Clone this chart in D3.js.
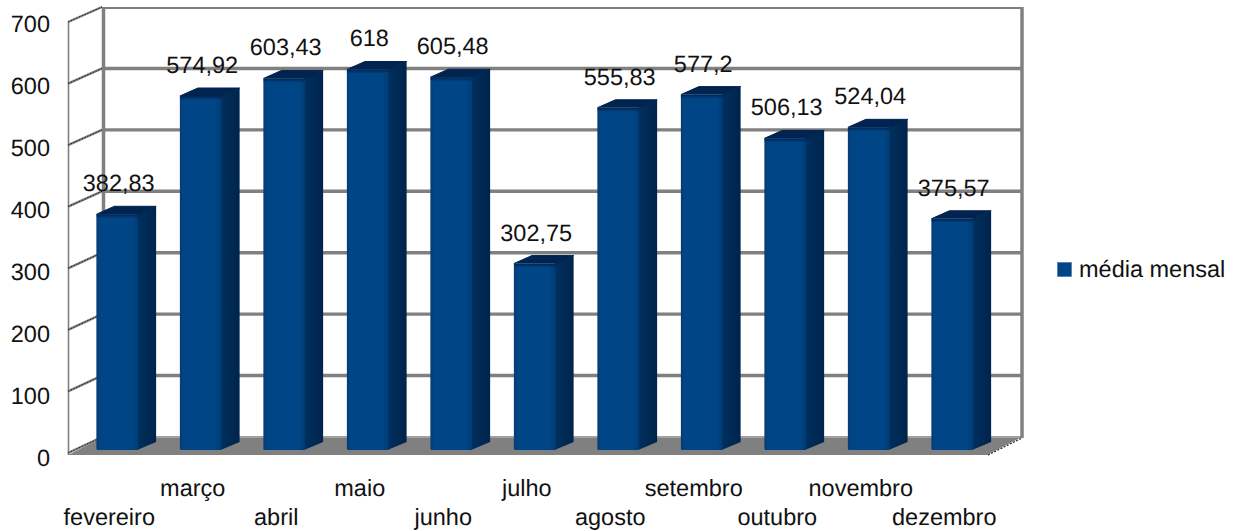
<!DOCTYPE html>
<html><head><meta charset="utf-8"><script src="https://cdn.jsdelivr.net/npm/d3@7"></script>
<style>html,body{margin:0;padding:0;background:#fff}svg{display:block}text{font-family:"Liberation Sans",Arial,sans-serif;fill:#111;text-rendering:geometricPrecision}</style></head>
<body><svg id="c" width="1246" height="531"></svg>
<script>
const months = ["fevereiro","março","abril","maio","junho","julho","agosto","setembro","outubro","novembro","dezembro"];
const values = [382.83,574.92,603.43,618,605.48,302.75,555.83,577.2,506.13,524.04,375.57];
const labels = ["382,83","574,92","603,43","618","605,48","302,75","555,83","577,2","506,13","524,04","375,57"];
const ticks = [0,100,200,300,400,500,600,700];
const seriesName = "média mensal";

const svg = d3.select("#c");
const FS = 23.5;
const dx = 35;
const yFront = d3.scaleLinear().domain([0,700]).range([453,22]);
const yBack  = d3.scaleLinear().domain([0,700]).range([437,7]);
const yBar   = d3.scaleLinear().domain([0,700]).range([450,19]);
const yLabel = d3.scaleLinear().domain([0,700]).range([466,32]);
const x = d3.scaleBand().domain(months).range([75.5,994]).paddingInner(0.5).paddingOuter(0.25);
const GRAY = "#808080";

const defs = svg.append("defs");
const g = defs.append("linearGradient").attr("id","front");
[[0,"#0a3a72"],[0.08,"#004586"],[0.85,"#004586"],[1,"#003c74"]].forEach(d=>g.append("stop").attr("offset",d[0]).attr("stop-color",d[1]));
const g2 = defs.append("linearGradient").attr("id","side");
[[0,"#00305f"],[0.5,"#002a55"],[1,"#00244c"]].forEach(d=>g2.append("stop").attr("offset",d[0]).attr("stop-color",d[1]));
const g3 = defs.append("linearGradient").attr("id","topShade").attr("x1",0).attr("x2",0).attr("y1",0).attr("y2",1);
[[0,"#00234f",1],[1,"#00234f",0]].forEach(d=>g3.append("stop").attr("offset",d[0]).attr("stop-color",d[1]).attr("stop-opacity",d[2]));

// floor
svg.append("path").attr("fill",GRAY)
  .attr("d",d3.line()([[68,yFront(0)+2],[68+dx,yBack(0)],[1022,yBack(0)],[1022-dx,yFront(0)+2]]));
// walls
svg.selectAll("line.grid").data(ticks.slice(1,-1)).join("line").attr("class","grid")
  .attr("x1",103).attr("x2",1022).attr("y1",d=>yBack(d)).attr("y2",d=>yBack(d))
  .attr("stroke",GRAY).attr("stroke-width",3.4);
svg.append("line").attr("x1",103).attr("x2",1022).attr("y1",yBack(700)+1).attr("y2",yBack(700)+1).attr("stroke",GRAY).attr("stroke-width",2);
svg.append("line").attr("x1",103).attr("x2",1022).attr("y1",yBack(0)).attr("y2",yBack(0)).attr("stroke","#a0a0a0").attr("stroke-width",2);
svg.append("line").attr("x1",103.5).attr("x2",103.5).attr("y1",7).attr("y2",437).attr("stroke",GRAY).attr("stroke-width",3.5);
svg.append("line").attr("x1",1022).attr("x2",1022).attr("y1",7).attr("y2",438).attr("stroke",GRAY).attr("stroke-width",3.5);
svg.append("line").attr("x1",68.5).attr("x2",68.5).attr("y1",yFront(700)).attr("y2",yFront(0)+2).attr("stroke",GRAY).attr("stroke-width",1.6);
// diagonal ticks
svg.selectAll("line.tk").data(ticks).join("line").attr("class","tk")
  .attr("x1",68).attr("y1",d=>yFront(d)).attr("x2",102).attr("y2",d=>yBack(d))
  .attr("stroke",GRAY).attr("stroke-width",2.4);
svg.selectAll("line.tk2").data(ticks).join("line").attr("class","tk2")
  .attr("x1",68).attr("y1",d=>yFront(d)).attr("x2",102).attr("y2",d=>yBack(d))
  .attr("stroke","#222").attr("stroke-width",1).attr("stroke-dasharray","1.5 1.5");
svg.append("line").attr("x1",988).attr("y1",yFront(0)+2).attr("x2",1022).attr("y2",yBack(0)+1)
  .attr("stroke","#222").attr("stroke-width",1.2).attr("stroke-dasharray","2 1.5");

// bars
const bdx = 18, bdy = -8;
const bars = svg.append("g").selectAll("g.bar").data(months).join("g").attr("class","bar");
bars.append("path").attr("fill","url(#side)").attr("d",(m,i)=>{
  const r=x(m)+x.bandwidth(), t=yBar(values[i]), b=yBar(0);
  return d3.line()([[r-1,t],[r+bdx,t+bdy],[r+bdx,b+bdy],[r-1,b]]);
});
bars.append("path").attr("fill","#00234f").attr("stroke","#00234f").attr("stroke-width",1).attr("stroke-linejoin","round").attr("d",(m,i)=>{
  const l=x(m), r=l+x.bandwidth(), t=yBar(values[i]);
  return d3.line()([[l,t],[l+bdx,t+bdy],[r+bdx,t+bdy],[r,t]]);
});
bars.append("rect").attr("x",m=>x(m)).attr("width",x.bandwidth()).attr("y",(m,i)=>yBar(values[i])).attr("height",(m,i)=>yBar(0)-yBar(values[i])).attr("rx",1.5).attr("fill","url(#front)");
bars.append("rect").attr("x",m=>x(m)).attr("width",x.bandwidth()).attr("y",(m,i)=>yBar(values[i])).attr("height",4).attr("fill","url(#topShade)");

// y labels
svg.selectAll("text.yl").data(ticks).join("text").attr("class","yl").attr("font-size",FS)
  .attr("text-anchor","end").attr("x",50).attr("y",d=>yLabel(d)).text(d=>d);
// value labels
svg.selectAll("text.vl").data(months).join("text").attr("class","vl").attr("font-size",FS)
  .attr("text-anchor","middle").attr("x",m=>x(m)+x.bandwidth()/2+1.5).attr("y",(m,i)=>yBar(values[i])-23).text((m,i)=>labels[i]);
// x labels, staggered
svg.selectAll("text.xl").data(months).join("text").attr("class","xl").attr("font-size",FS)
  .attr("text-anchor","middle").attr("x",m=>x(m)+x.bandwidth()/2-8).attr("y",(m,i)=>i%2?496:525).text(m=>m);
// legend
svg.append("rect").attr("x",1057.5).attr("y",262.5).attr("width",14).attr("height",14).attr("fill","#004586").attr("stroke","#3f74a6").attr("stroke-width",0.6);
svg.append("text").attr("font-size",FS).attr("x",1079).attr("y",277).text(seriesName);
</script></body></html>
